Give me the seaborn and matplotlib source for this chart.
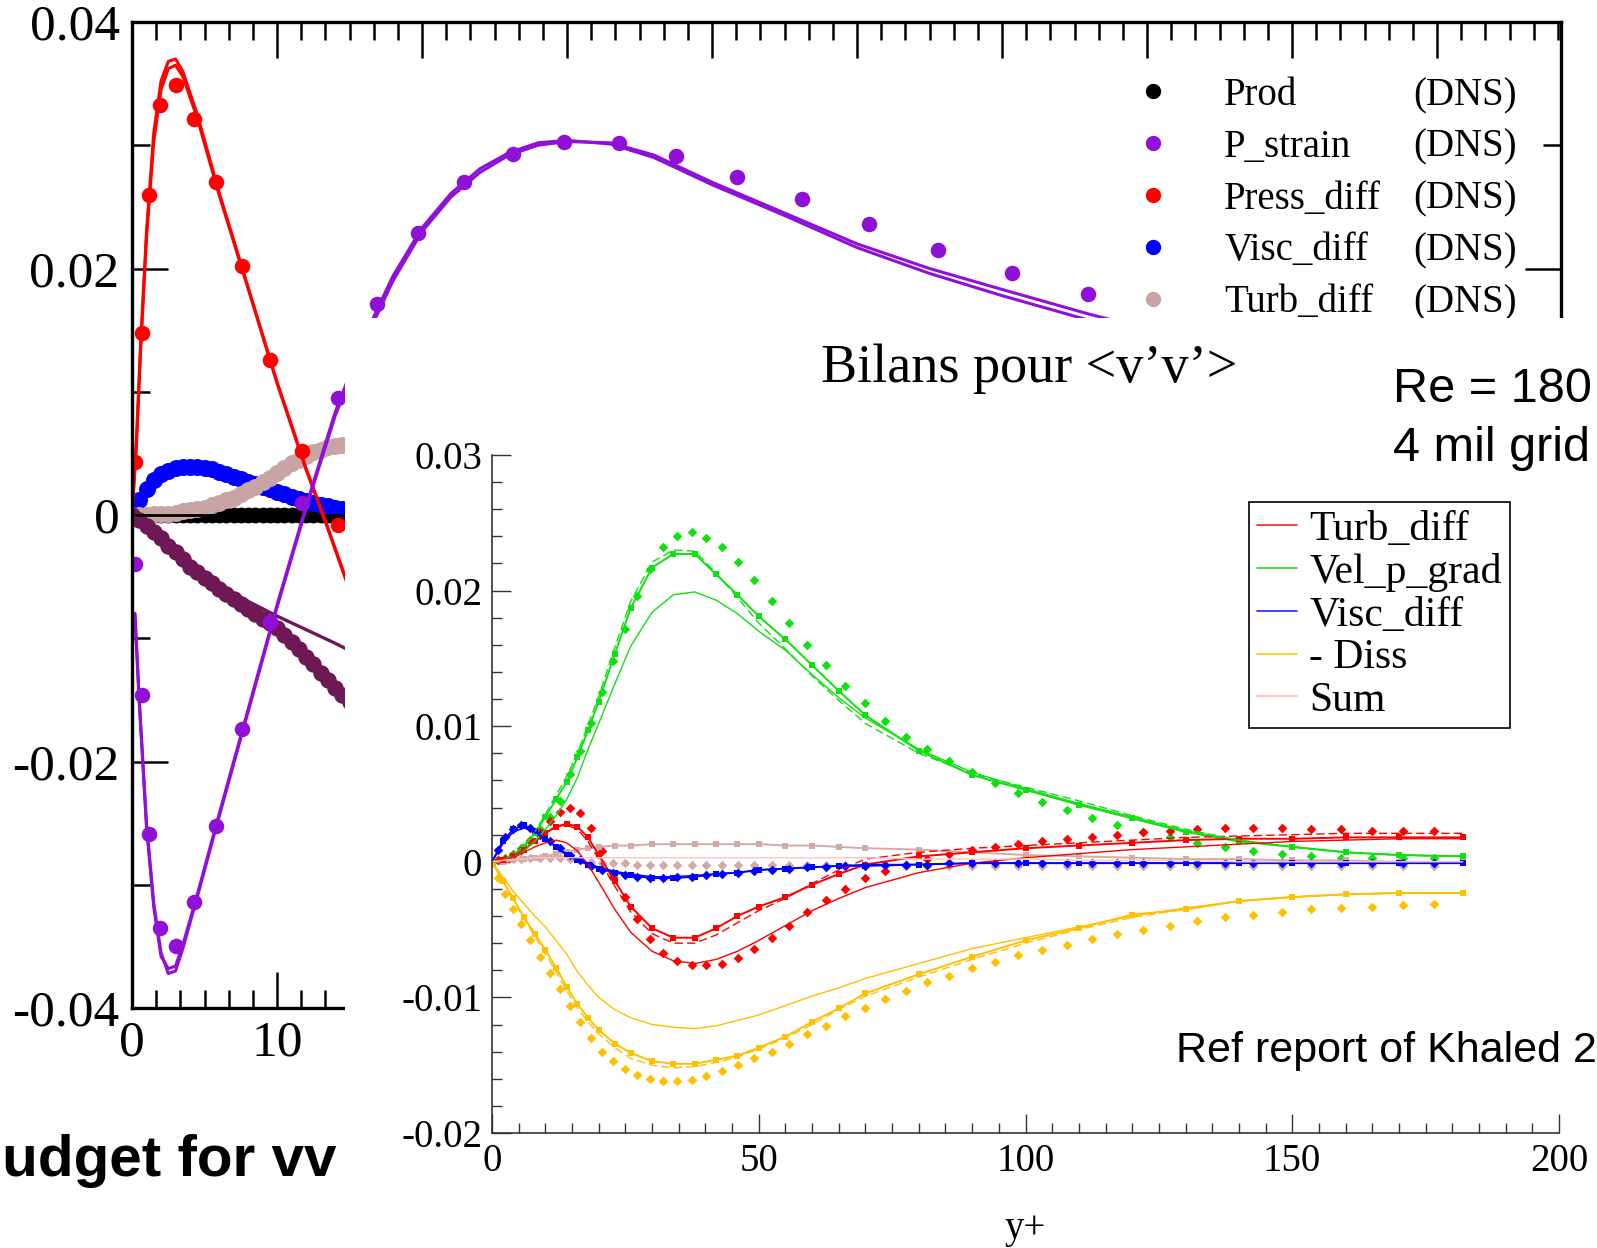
import matplotlib
matplotlib.use("Agg")
import matplotlib.pyplot as plt
import seaborn as sns
from matplotlib.lines import Line2D
from matplotlib.patches import Rectangle
from matplotlib.ticker import AutoMinorLocator, MultipleLocator, FuncFormatter

sns.set_theme(style="ticks")
plt.rcParams['font.family'] = ['Liberation Serif', 'DejaVu Serif']
plt.rcParams['axes.unicode_minus'] = False
plt.rcParams['text.color'] = 'black'
plt.rcParams['axes.labelcolor'] = 'black'

# ---------------- background plot (budget for vv, DNS) ----------------
bg_dns_x = [0.2, 0.7, 1.2, 1.9, 3.0, 4.3, 5.8, 7.6, 9.5, 11.7, 14.2, 16.9, 19.7, 22.9,
            26.3, 29.8, 33.6, 37.5, 41.7, 46.2, 50.8, 55.6, 60.7, 65.9]
press_dns = [0.0043, 0.0148, 0.0260, 0.0333, 0.0349, 0.0321, 0.0270, 0.0202, 0.0126, 0.0052, -0.0008]
pstrain_dns = [-0.0040, -0.0146, -0.0259, -0.0335, -0.0350, -0.0314, -0.0252, -0.0174, -0.0087, 0.0010,
               0.0095, 0.0171, 0.0229, 0.0270, 0.0293, 0.0303, 0.0302, 0.0291, 0.0274, 0.0256,
               0.0236, 0.0215, 0.0196, 0.0179]

bg_dense_x = [0.0, 0.5, 1.0, 1.5, 2.0, 2.5, 3.0, 3.5, 4.0, 4.5, 5.0, 5.5, 6.0, 6.5, 7.0, 7.5,
              8.0, 8.5, 9.0, 9.5, 10.0, 10.5, 11.0, 11.5, 12.0, 12.5, 13.0, 13.5, 14.0, 14.5, 15.0]
prod_dns = [0.0] * 31
visc_dns = [0.0, 0.0012, 0.0021, 0.0028, 0.0033, 0.0036, 0.0038, 0.0039, 0.0039, 0.0039, 0.0038,
            0.0037, 0.0035, 0.0033, 0.0031, 0.0029, 0.0027, 0.0025, 0.0023, 0.0021, 0.0019,
            0.0017, 0.0015, 0.0013, 0.0011, 0.0010, 0.0008, 0.0007, 0.0006, 0.0005, 0.0004]
turb_dns = [0.0, 0.0, 0.0, 0.0001, 0.0001, 0.0001, 0.0002, 0.0003, 0.0004, 0.0005, 0.0006,
            0.0008, 0.0010, 0.0012, 0.0014, 0.0017, 0.0020, 0.0023, 0.0027, 0.0030, 0.0034,
            0.0038, 0.0042, 0.0045, 0.0048, 0.0051, 0.0053, 0.0055, 0.0056, 0.0057, 0.0058]
diss_dns = [0.0, -0.0004, -0.0009, -0.0014, -0.0019, -0.0025, -0.0030, -0.0036, -0.0042, -0.0046,
            -0.0051, -0.0055, -0.0060, -0.0064, -0.0068, -0.0072, -0.0076, -0.0080, -0.0084, -0.0088,
            -0.0092, -0.0097, -0.0103, -0.0109, -0.0115, -0.0121, -0.0128, -0.0134, -0.0140, -0.0146,
            -0.0152]

prod_line_x = [0.0, 15.0]
prod_line_y = [0.0, 0.0]
diss_line_x = [0, 2, 4, 6, 8, 10, 12, 14, 15]
diss_line_y = [0.0, -0.0019, -0.0040, -0.0057, -0.0070, -0.0082, -0.0093, -0.0104, -0.0110]

press_line_x = [0.0, 0.3, 0.6, 1.0, 1.5, 2.0, 2.5, 3.0, 3.5, 4.5, 6.0, 8.0, 10.0, 12.0, 13.5, 15.0]
press_line_a = [0.0, 0.0060, 0.0140, 0.0230, 0.0310, 0.0352, 0.0368, 0.0370, 0.0360, 0.0325,
                0.0262, 0.0185, 0.0108, 0.0038, -0.0010, -0.0060]
press_line_b = [0.0, 0.0055, 0.0135, 0.0225, 0.0303, 0.0345, 0.0362, 0.0365, 0.0356, 0.0322,
                0.0260, 0.0184, 0.0107, 0.0037, -0.0011, -0.0061]

pstrain_line_x = [0.2, 0.5, 1.0, 1.5, 2.0, 2.5, 3.0, 3.5, 4.5, 6.0, 8.0, 10.0, 12.0, 14.0, 16.0,
                  18.0, 20.0, 22.0, 24.0, 26.0, 28.0, 30.0, 33.0, 36.0, 40.0, 45.0, 50.0, 55.0,
                  60.0, 66.0, 72.0]
pstrain_line_a = [-0.0080, -0.0150, -0.0250, -0.0315, -0.0355, -0.0372, -0.0370, -0.0352, -0.0310,
                  -0.0245, -0.0160, -0.0075, 0.0005, 0.0080, 0.0140, 0.0190, 0.0230, 0.0258,
                  0.0278, 0.0292, 0.0300, 0.0303, 0.0302, 0.0292, 0.0270, 0.0245, 0.0220, 0.0200,
                  0.0183, 0.0163, 0.0145]
pstrain_line_b = [-0.0080, -0.0152, -0.0253, -0.0318, -0.0358, -0.0368, -0.0366, -0.0349, -0.0308,
                  -0.0243, -0.0158, -0.0073, 0.0007, 0.0083, 0.0144, 0.0194, 0.0233, 0.0261,
                  0.0281, 0.0294, 0.0302, 0.0304, 0.0301, 0.0290, 0.0268, 0.0243, 0.0217, 0.0196,
                  0.0178, 0.0158, 0.0140]

bg_labels = ['Prod', 'P_strain', 'Press_diff', 'Visc_diff', 'Turb_diff']
bg_colors = ['black', '#9010D8', '#FF0000', '#0000FF', '#C8A4A4']

# ---------------- inset (Bilans pour <v'v'>) ----------------
x_dns = [0, 1.2, 2.5, 4, 5.5, 7.2, 9, 10.8, 12.7, 14.6, 16.5, 18.5, 20.6, 22.7, 24.9, 27.2,
         29.6, 32.1, 34.7, 37.4, 40.2, 43.1, 46.1, 49.2, 52.4, 55.7, 59.1, 62.6, 66.2, 69.9,
         73.7, 77.6, 81.6, 85.7, 89.9, 94.2, 98.6, 103.1, 107.7, 112.4, 117.2, 122.1, 127.1,
         132.2, 137.4, 142.7, 148.1, 153.6, 159.2, 164.9, 170.7, 176.6]
green_dots = [0.0, 0.0001, 0.0003, 0.0006, 0.0010, 0.0016, 0.0024, 0.0033, 0.0045, 0.0065,
              0.0082, 0.0102, 0.0125, 0.0148, 0.0172, 0.0196, 0.0216, 0.0232, 0.0240, 0.0243,
              0.0239, 0.0232, 0.0221, 0.0208, 0.0192, 0.0176, 0.0160, 0.0145, 0.0130, 0.0117,
              0.0104, 0.0092, 0.0083, 0.0074, 0.0066, 0.0058, 0.0051, 0.0044, 0.0038, 0.0032,
              0.0027, 0.0022, 0.0018, 0.0014, 0.0011, 0.0008, 0.0006, 0.0004, 0.0003, 0.0003,
              0.0003, 0.0003]
red_dots = [0.0, 0.0001, 0.0002, 0.0005, 0.0009, 0.0015, 0.0022, 0.0030, 0.0037, 0.0040,
            0.0036, 0.0025, 0.0008, -0.0011, -0.0026, -0.0042, -0.0057, -0.0067, -0.0073, -0.0076,
            -0.0076, -0.0075, -0.0071, -0.0064, -0.0056, -0.0047, -0.0037, -0.0028, -0.0020, -0.0012,
            -0.0007, -0.0002, 0.0002, 0.0006, 0.0009, 0.0011, 0.0013, 0.0015, 0.0017, 0.0018,
            0.0020, 0.0022, 0.0023, 0.0024, 0.0025, 0.0025, 0.0025, 0.0024, 0.0024, 0.0023,
            0.0023, 0.0023]
blue_dots = [0.0, 0.0009, 0.0018, 0.0024, 0.0027, 0.0025, 0.0020, 0.0015, 0.0010, 0.0005,
             0.0001, -0.0003, -0.0006, -0.0008, -0.0010, -0.0011, -0.0012, -0.0012, -0.0011, -0.0011,
             -0.0010, -0.0009, -0.0008, -0.0007, -0.0006, -0.0005, -0.0004, -0.0004, -0.0003, -0.0003,
             -0.0002, -0.0002, -0.0002, -0.0001, -0.0001, -0.0001, -0.0001, -0.0001, -0.0001, -0.0001,
             -0.0001, -0.0001, -0.0001, -0.0001, -0.0001, -0.0001, -0.0001, -0.0001, -0.0001, -0.0001,
             -0.0001, -0.0001]
gold_dots = [0.0, -0.0012, -0.0024, -0.0035, -0.0046, -0.0058, -0.0070, -0.0082, -0.0094, -0.0106,
             -0.0118, -0.0130, -0.0140, -0.0147, -0.0153, -0.0157, -0.0160, -0.0162, -0.0162, -0.0161,
             -0.0158, -0.0154, -0.0150, -0.0145, -0.0140, -0.0134, -0.0127, -0.0121, -0.0114, -0.0108,
             -0.0101, -0.0095, -0.0089, -0.0084, -0.0078, -0.0074, -0.0069, -0.0065, -0.0061, -0.0057,
             -0.0053, -0.0050, -0.0047, -0.0044, -0.0041, -0.0039, -0.0037, -0.0035, -0.0034, -0.0033,
             -0.0032, -0.0031]
pink_dots = [0.0, 0.0001, 0.0001, 0.0002, 0.0002, 0.0003, 0.0003, 0.0003, 0.0003, 0.0002,
             0.0001, 0.0, -0.0001, -0.0001, -0.0001, -0.0002, -0.0002, -0.0002, -0.0002, -0.0002,
             -0.0002, -0.0002, -0.0002, -0.0002, -0.0002, -0.0002, -0.0002, -0.0002, -0.0002, -0.0002,
             -0.0002, -0.0003, -0.0003, -0.0003, -0.0003, -0.0003, -0.0003, -0.0003, -0.0003, -0.0003,
             -0.0003, -0.0003, -0.0003, -0.0003, -0.0003, -0.0003, -0.0003, -0.0003, -0.0003, -0.0003,
             -0.0003, -0.0003]

xl = [0, 2, 4, 6, 8, 10, 12, 14, 16, 18, 20, 23, 26, 30, 34, 38, 42, 46, 50, 55,
      60, 65, 70, 80, 90, 100, 110, 120, 130, 140, 150, 160, 170, 182]
green_thick = [0, 0.0001, 0.0005, 0.0011, 0.0021, 0.0033, 0.0046, 0.0059, 0.0077, 0.0097,
               0.0118, 0.0153, 0.0187, 0.0217, 0.0227, 0.0227, 0.0212, 0.0197, 0.0181, 0.0164,
               0.0145, 0.0126, 0.0108, 0.0082, 0.0064, 0.0053, 0.0042, 0.0032, 0.0022, 0.0015,
               0.0011, 0.0007, 0.0005, 0.0004]
green_dash = [0, 0.0001, 0.0005, 0.0012, 0.0022, 0.0035, 0.0049, 0.0063, 0.0080, 0.0101,
              0.0122, 0.0158, 0.0192, 0.0221, 0.0230, 0.0229, 0.0213, 0.0195, 0.0176, 0.0157,
              0.0137, 0.0119, 0.0102, 0.0080, 0.0065, 0.0055, 0.0045, 0.0034, 0.0024, 0.0016,
              0.0011, 0.0007, 0.0005, 0.0004]
green_thin = [0, 0.0001, 0.0003, 0.0008, 0.0015, 0.0024, 0.0034, 0.0046, 0.0062, 0.0083,
              0.0102, 0.0131, 0.0159, 0.0184, 0.0197, 0.0199, 0.0193, 0.0183, 0.0170, 0.0156,
              0.0138, 0.0121, 0.0106, 0.0083, 0.0066, 0.0054, 0.0043, 0.0033, 0.0023, 0.0016,
              0.0011, 0.0007, 0.0005, 0.0004]
red_thick = [0, 0.0001, 0.0004, 0.0009, 0.0015, 0.0021, 0.0026, 0.0028, 0.0026, 0.0018,
             0.0005, -0.0014, -0.0033, -0.0049, -0.0056, -0.0056, -0.0049, -0.0040, -0.0033, -0.0026,
             -0.0017, -0.0009, -0.0002, 0.0004, 0.0007, 0.0010, 0.0012, 0.0014, 0.0016, 0.0017,
             0.0017, 0.0018, 0.0018, 0.0018]
red_dash = [0, 0.0001, 0.0004, 0.0009, 0.0015, 0.0021, 0.0026, 0.0027, 0.0024, 0.0015,
            0.0002, -0.0018, -0.0037, -0.0053, -0.0060, -0.0060, -0.0054, -0.0045, -0.0036, -0.0027,
            -0.0016, -0.0006, 0.0002, 0.0007, 0.0010, 0.0012, 0.0014, 0.0016, 0.0018, 0.0019,
            0.0020, 0.0021, 0.0021, 0.0021]
red_thin = [0, 0.0001, 0.0003, 0.0007, 0.0011, 0.0014, 0.0016, 0.0014, 0.0008, -0.0002,
            -0.0015, -0.0035, -0.0052, -0.0066, -0.0073, -0.0075, -0.0072, -0.0066, -0.0058, -0.0047,
            -0.0036, -0.0027, -0.0019, -0.0008, -0.0001, 0.0003, 0.0006, 0.0009, 0.0011, 0.0013,
            0.0015, 0.0016, 0.0017, 0.0017]
blue_thick = [0, 0.0015, 0.0024, 0.0027, 0.0023, 0.0017, 0.0011, 0.0005, 0.0001, -0.0002,
              -0.0005, -0.0008, -0.0010, -0.0012, -0.0012, -0.0011, -0.0009, -0.0008, -0.0006, -0.0005,
              -0.0004, -0.0003, -0.0003, -0.0002, -0.0001, -0.0001, -0.0001, -0.0001, -0.0001, -0.0001,
              -0.0001, -0.0001, -0.0001, -0.0001]
blue_thin = [0, 0.0013, 0.0022, 0.0025, 0.0022, 0.0017, 0.0011, 0.0006, 0.0002, -0.0001,
             -0.0004, -0.0007, -0.0009, -0.0011, -0.0011, -0.0010, -0.0009, -0.0008, -0.0006, -0.0005,
             -0.0004, -0.0003, -0.0002, -0.0002, -0.0001, -0.0001, -0.0001, -0.0001, -0.0001, -0.0001,
             -0.0001, -0.0001, -0.0001, -0.0001]
gold_thick = [0, -0.0014, -0.0027, -0.0041, -0.0053, -0.0065, -0.0078, -0.0092, -0.0105, -0.0115,
              -0.0124, -0.0134, -0.0141, -0.0147, -0.0149, -0.0149, -0.0146, -0.0143, -0.0137, -0.0129,
              -0.0118, -0.0108, -0.0097, -0.0083, -0.0070, -0.0058, -0.0049, -0.0039, -0.0035, -0.0029,
              -0.0026, -0.0024, -0.0023, -0.0023]
gold_dash = [0, -0.0014, -0.0028, -0.0042, -0.0055, -0.0068, -0.0081, -0.0095, -0.0108, -0.0118,
             -0.0127, -0.0137, -0.0145, -0.0150, -0.0152, -0.0151, -0.0148, -0.0144, -0.0138, -0.0130,
             -0.0120, -0.0109, -0.0099, -0.0085, -0.0072, -0.0060, -0.0050, -0.0041, -0.0035, -0.0029,
             -0.0026, -0.0024, -0.0023, -0.0023]
gold_thin = [0, -0.0011, -0.0022, -0.0031, -0.0040, -0.0048, -0.0058, -0.0068, -0.0081, -0.0091,
             -0.0100, -0.0109, -0.0115, -0.0120, -0.0122, -0.0123, -0.0121, -0.0117, -0.0113, -0.0106,
             -0.0099, -0.0093, -0.0086, -0.0075, -0.0064, -0.0056, -0.0048, -0.0040, -0.0034, -0.0029,
             -0.0026, -0.0024, -0.0023, -0.0023]
pink_thick = [0, 0.0, 0.0001, 0.0002, 0.0003, 0.0004, 0.0006, 0.0007, 0.0009, 0.0010,
              0.0011, 0.0012, 0.0012, 0.0013, 0.0013, 0.0013, 0.0013, 0.0013, 0.0013, 0.0012,
              0.0012, 0.0011, 0.0010, 0.0009, 0.0007, 0.0005, 0.0004, 0.0003, 0.0002, 0.0002,
              0.0001, 0.0001, 0.0, 0.0]
sum_line = [0, 0.0001, 0.0002, 0.0002, 0.0003, 0.0003, 0.0003, 0.0003, 0.0003, 0.0003,
            0.0003, 0.0003, 0.0003, 0.0003, 0.0003, 0.0003, 0.0003, 0.0003, 0.0003, 0.0003,
            0.0003, 0.0003, 0.0003, 0.0002, 0.0002, 0.0002, 0.0001, 0.0001, 0.0001, 0.0,
            0.0, 0.0, 0.0, 0.0]

inset_labels = ['Turb_diff', 'Vel_p_grad', 'Visc_diff', '- Diss', 'Sum']
inset_colors = ['#FF1A1A', '#1FDD1F', '#2020FF', '#FFC800', '#FFB8B8']

RED, GREEN, BLUE, GOLD, PINK = '#FF0000', '#10E010', '#0000FF', '#FFC000', '#D2AAAA'

W, H = 1597, 1248


def fx(px):
    return px / W


def fy(py):
    return 1 - py / H


fig = plt.figure(figsize=(15.97, 12.48), dpi=100)
fig.patch.set_facecolor('white')

# --- background axes ---
ax_bg = fig.add_axes([fx(132), fy(1008), fx(1561) - fx(132), fy(22) - fy(1008)], zorder=0)
ax_bg.set_facecolor('white')

sns.lineplot(x=prod_line_x, y=prod_line_y, ax=ax_bg, color='black', lw=2, estimator=None)
sns.scatterplot(x=bg_dense_x, y=prod_dns, ax=ax_bg, color='black', s=130, linewidth=0)
sns.scatterplot(x=bg_dense_x, y=visc_dns, ax=ax_bg, color='#0000FF', s=150, linewidth=0)
sns.scatterplot(x=bg_dense_x, y=turb_dns, ax=ax_bg, color='#C8A4A4', s=150, linewidth=0)
sns.scatterplot(x=bg_dense_x, y=diss_dns, ax=ax_bg, color='#6E1955', s=140, linewidth=0)
sns.lineplot(x=diss_line_x, y=diss_line_y, ax=ax_bg, color='#6E1955', lw=2.4, estimator=None)
sns.lineplot(x=press_line_x, y=press_line_a, ax=ax_bg, color='#FF0000', lw=2.2, estimator=None)
sns.lineplot(x=press_line_x, y=press_line_b, ax=ax_bg, color='#FF0000', lw=2.2, estimator=None)
sns.scatterplot(x=bg_dns_x[:len(press_dns)], y=press_dns, ax=ax_bg, color='#FF0000', s=125, linewidth=0)
sns.lineplot(x=pstrain_line_x, y=pstrain_line_a, ax=ax_bg, color='#9010D8', lw=2.2, estimator=None)
sns.lineplot(x=pstrain_line_x, y=pstrain_line_b, ax=ax_bg, color='#9010D8', lw=2.2, estimator=None)
sns.scatterplot(x=bg_dns_x, y=pstrain_dns, ax=ax_bg, color='#9010D8', s=125, linewidth=0)

ax_bg.set_xlim(0, 98.55)
ax_bg.set_ylim(-0.04, 0.04)
ax_bg.set_xticks([0, 10, 20, 30, 40, 50, 60, 70, 80, 90])
ax_bg.xaxis.set_minor_locator(AutoMinorLocator(6))
ax_bg.set_yticks([-0.04, -0.02, 0, 0.02, 0.04])
ax_bg.set_yticks([-0.03, -0.01, 0.01, 0.03], minor=True)
ax_bg.yaxis.set_major_formatter(FuncFormatter(lambda v, p: f'{v:g}'))
ax_bg.tick_params(which='both', direction='in', top=True, right=True, width=1.8,
                  colors='black', labelsize=37, pad=9)
ax_bg.tick_params(which='major', length=26)
ax_bg.tick_params(which='minor', length=13)
for sp in ax_bg.spines.values():
    sp.set_linewidth(2.4)
    sp.set_color('black')
ax_bg.set_xlabel('')
ax_bg.set_ylabel('')

handles = [Line2D([], [], marker='o', linestyle='none', color=c, markersize=10) for c in bg_colors]
leg1 = ax_bg.legend(handles, bg_labels, loc='upper left', bbox_to_anchor=(fx(1134), fy(77)),
                    bbox_transform=fig.transFigure, frameon=False, fontsize=28,
                    handlelength=1.0, handletextpad=1.32, borderpad=0, borderaxespad=0,
                    labelspacing=0.38)
ax_bg.add_artist(leg1)
blank = [Line2D([], [], linestyle='none') for _ in bg_labels]
ax_bg.legend(blank, ['(DNS)'] * 5, loc='upper right', bbox_to_anchor=(fx(1517), fy(77)),
             bbox_transform=fig.transFigure, frameon=False, fontsize=28, handlelength=0,
             handletextpad=0, borderpad=0, borderaxespad=0, labelspacing=0.38)

# white sheet of the pasted inset
fig.add_artist(Rectangle((fx(345), 0), 1 - fx(345), fy(318), transform=fig.transFigure,
                         facecolor='white', edgecolor='none', zorder=1))

# --- inset axes ---
ax_in = fig.add_axes([fx(492), fy(1133), fx(1559) - fx(492), fy(455) - fy(1133)], zorder=2)
ax_in.patch.set_alpha(0)

for y, c in [(pink_thick, PINK), (green_thick, GREEN), (red_thick, RED),
             (blue_thick, BLUE), (gold_thick, GOLD)]:
    sns.lineplot(x=xl, y=y, ax=ax_in, color=c, lw=1.4, marker='s', markersize=4,
                 markeredgewidth=0, estimator=None)
for y, c in [(green_dash, GREEN), (red_dash, RED), (gold_dash, GOLD)]:
    sns.lineplot(x=xl, y=y, ax=ax_in, color=c, lw=1.0, linestyle=(0, (6, 3)), estimator=None)
for y, c in [(green_thin, GREEN), (red_thin, RED), (blue_thin, BLUE), (gold_thin, GOLD),
             (sum_line, '#FFC4C4')]:
    sns.lineplot(x=xl, y=y, ax=ax_in, color=c, lw=1.0, estimator=None)
for y, c in [(pink_dots, PINK), (green_dots, GREEN), (red_dots, RED),
             (blue_dots, BLUE), (gold_dots, GOLD)]:
    sns.scatterplot(x=x_dns, y=y, ax=ax_in, color=c, marker='D', s=24, linewidth=0)

ax_in.set_xlim(0, 200)
ax_in.set_ylim(-0.02, 0.03)
ax_in.set_xticks([0, 50, 100, 150, 200])
ax_in.xaxis.set_minor_locator(MultipleLocator(5))
ax_in.set_yticks([-0.02, -0.01, 0, 0.01, 0.02, 0.03])
ax_in.yaxis.set_minor_locator(MultipleLocator(0.002))
ax_in.yaxis.set_major_formatter(FuncFormatter(lambda v, p: '0' if abs(v) < 1e-12 else f'{v:g}'))
sns.despine(ax=ax_in)
for sp in ['left', 'bottom']:
    ax_in.spines[sp].set_linewidth(1.2)
    ax_in.spines[sp].set_color('#333333')
ax_in.tick_params(which='both', direction='in', width=1.0, colors='#333333',
                  labelcolor='black', labelsize=28)
ax_in.tick_params(which='major', length=14, pad=7)
ax_in.tick_params(which='minor', length=7)
ax_in.set_ylabel('')
ax_in.set_xlabel('y+', fontsize=28, labelpad=22)

in_handles = [Line2D([], [], color=c, lw=1.2) for c in inset_colors]
leg2 = ax_in.legend(in_handles, inset_labels, loc='upper left', bbox_to_anchor=(fx(1249), fy(502)),
                    bbox_transform=fig.transFigure, fontsize=30, frameon=True, fancybox=False,
                    edgecolor='black', framealpha=1, handlelength=0.95, handletextpad=0.3,
                    borderpad=0.2, borderaxespad=0, labelspacing=0.1)
leg2.get_frame().set_linewidth(1.2)

# --- slide texts ---
fig.text(fx(1029), fy(369), 'Bilans pour <v\u2019v\u2019>', ha='center', va='center',
         fontsize=39, zorder=3)
fig.text(fx(1393), fy(390), 'Re = 180', ha='left', va='center', fontsize=35,
         family=['Liberation Sans', 'DejaVu Sans'], zorder=3)
fig.text(fx(1393), fy(449), '4 mil grid', ha='left', va='center', fontsize=35,
         family=['Liberation Sans', 'DejaVu Sans'], zorder=3)
fig.text(fx(1176), fy(1051), 'Ref report of Khaled 20', ha='left', va='center', fontsize=31,
         family=['Liberation Sans', 'DejaVu Sans'], zorder=3)
fig.text(fx(336), fy(1161), 'Budget for vv', ha='right', va='center', fontsize=42,
         fontweight='bold', family=['Liberation Sans', 'DejaVu Sans'], zorder=3)

fig.savefig('out.png', dpi=100)
